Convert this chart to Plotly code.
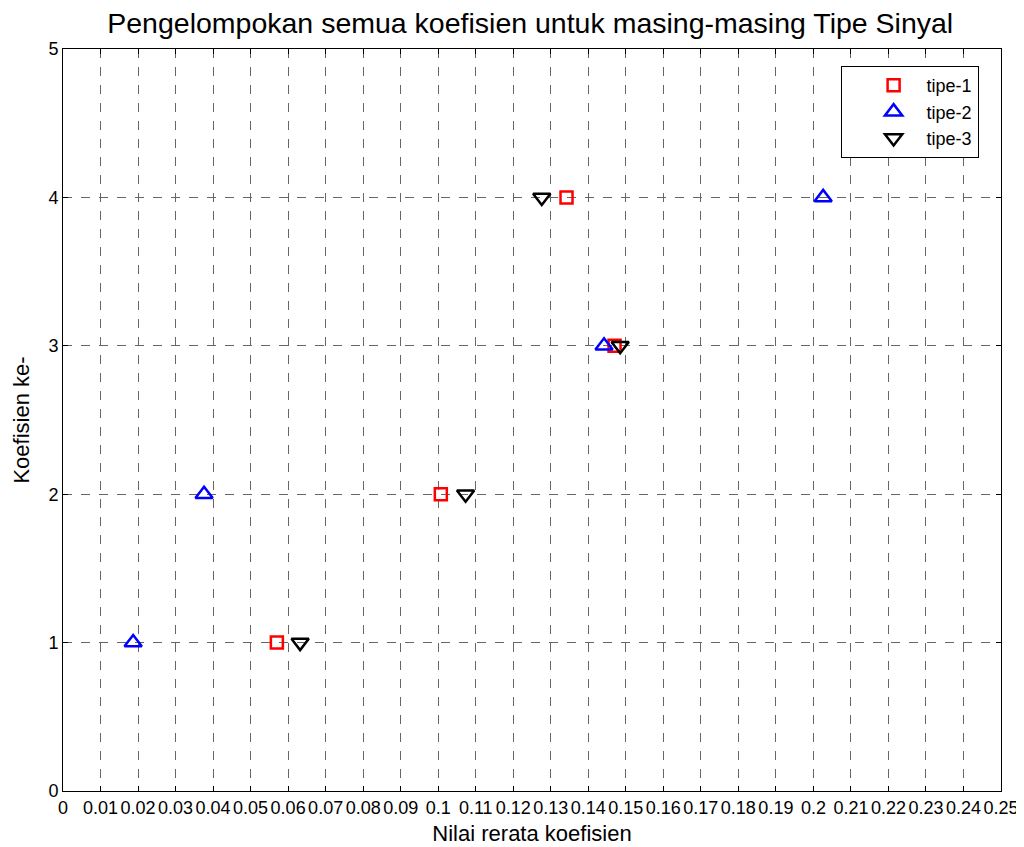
import plotly.graph_objects as go

coef = [1, 2, 3, 4]
tipe1_x = [0.0570, 0.1007, 0.1470, 0.1342]
tipe2_x = [0.0187, 0.0376, 0.1442, 0.2026]
tipe3_x = [0.0632, 0.1073, 0.1485, 0.1276]

x_tickvals = [i / 100 for i in range(0, 26)]
x_ticktext = ["0", "0.01", "0.02", "0.03", "0.04", "0.05", "0.06", "0.07", "0.08", "0.09",
              "0.1", "0.11", "0.12", "0.13", "0.14", "0.15", "0.16", "0.17", "0.18", "0.19",
              "0.2", "0.21", "0.22", "0.23", "0.24", "0.25"]
y_tickvals = [0, 1, 2, 3, 4, 5]

FONT = "Liberation Sans, Arial, Helvetica"

fig = go.Figure()
fig.add_trace(go.Scatter(x=tipe1_x, y=coef, mode="markers", name="tipe-1",
                         marker=dict(symbol="square-open", size=12, color="#ff0000",
                                     line=dict(width=2.5, color="#ff0000"))))
fig.add_trace(go.Scatter(x=tipe2_x, y=coef, mode="markers", name="tipe-2",
                         marker=dict(symbol="triangle-up-open", size=15, color="#0000ff",
                                     line=dict(width=2.5, color="#0000ff"))))
fig.add_trace(go.Scatter(x=tipe3_x, y=coef, mode="markers", name="tipe-3",
                         marker=dict(symbol="triangle-down-open", size=15, color="#000000",
                                     line=dict(width=2.5, color="#000000"))))

axis_common = dict(showline=True, linecolor="black", linewidth=1, mirror="ticks",
                   ticks="inside", ticklen=5, tickcolor="black", tickangle=0,
                   showgrid=True, gridcolor="#666666", griddash="dash", gridwidth=1,
                   zeroline=False, automargin=False, ticklabeloverflow="allow",
                   tickfont=dict(family=FONT, size=18, color="black"))

fig.update_layout(
    width=1016, height=839,
    margin=dict(l=55, r=23, t=41, b=56),
    paper_bgcolor="white", plot_bgcolor="white",
    title=dict(text="Pengelompokan semua koefisien untuk masing-masing Tipe Sinyal",
               x=0.514, xanchor="center", y=0.982, yanchor="middle",
               font=dict(family=FONT, size=28.5, color="black")),
    xaxis=dict(range=[0, 0.25], tickvals=x_tickvals, ticktext=x_ticktext,
               title=dict(text="Nilai rerata koefisien", standoff=9,
                          font=dict(family=FONT, size=22, color="black")),
               **axis_common),
    yaxis=dict(range=[0, 5], tickvals=y_tickvals,
               title=dict(text="Koefisien ke-", standoff=12,
                          font=dict(family=FONT, size=22, color="black")),
               **axis_common),
    legend=dict(x=0.829, y=0.977, xanchor="left", yanchor="top",
                bgcolor="white", bordercolor="black", borderwidth=1,
                font=dict(family=FONT, size=18, color="black"),
                itemwidth=56, indentation=19),
    showlegend=True,
)

fig.write_html("out.html")
